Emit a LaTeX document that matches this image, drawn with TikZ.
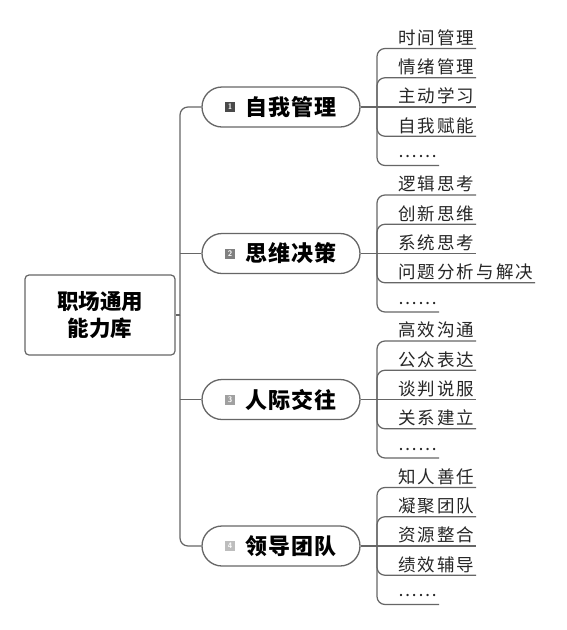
\documentclass[tikz,border=0pt]{standalone}
\usepackage{fontspec}
\newfontfamily\cjk{Noto Sans CJK SC}
\newfontfamily\leaffont[LetterSpace=12]{Noto Sans CJK SC}
\newfontfamily\lblfont[LetterSpace=5]{Noto Sans CJK SC}
\usetikzlibrary{shapes.misc}
\definecolor{linec}{HTML}{666666}
\newcommand\mkbranch[5]{%
  \node[pill] (b#1) at (281,#2) {};
  \node[icon=#4] (i#1) at (230,#2) {#1};
  \node[lbl] (t#1) at (291,#2) {#3};
  \coordinate (s#1) at (377,#2);
  \draw[conn] (b#1.east) -- (s#1);
  \foreach \t [count=\k] in {#5} {\node[leaf] (l#1\k) at (396.5,{#2+(\k-3)*29.25}) {\t};}
  \foreach \k in {1,2,4,5} {\draw[conn, rounded corners=8pt] (s#1) |- (l#1\k.south east);}
  \draw[conn] (s#1) -- (l#13.south east);
}
\newcommand\dotsleaf{\raisebox{3.5pt}{……}}
\begin{document}
\begin{tikzpicture}[x=1pt,y=-1pt,
  conn/.style={draw=linec, line width=1.25pt},
  pill/.style={draw=linec, line width=1.3pt, rounded rectangle, minimum width=158pt, minimum height=40pt, inner sep=0pt},
  lbl/.style={font=\lblfont\bfseries\fontsize{22}{26}\selectfont, inner sep=0pt},
  icon/.style={fill=#1, minimum size=10pt, inner sep=0pt, text=white, font=\sffamily\bfseries\fontsize{8}{8}\selectfont},
  leaf/.style={anchor=south west, inner ysep=0pt, inner xsep=1.5pt, text height=14pt, text depth=4pt, font=\leaffont\fontsize{17.5}{19}\selectfont, text=black!85}]
\fill[white] (0,0) rectangle (566,630);
\useasboundingbox (0,0) rectangle (566,630);
\node[draw=linec, line width=1.2pt, rounded corners=4pt, minimum width=150pt, minimum height=80pt, align=center, inner sep=0pt, font=\cjk\bfseries\fontsize{21.5}{27}\selectfont] (root) at (100,315) {职场通用\\能力库};
\definecolor{ic1}{HTML}{4A4A4A}
\definecolor{ic2}{HTML}{808080}
\definecolor{ic3}{HTML}{A0A0A0}
\definecolor{ic4}{HTML}{BDBDBD}
\mkbranch{1}{107}{自我管理}{ic1}{时间管理,情绪管理,主动学习,自我赋能,\dotsleaf}
\mkbranch{2}{253.5}{思维决策}{ic2}{逻辑思考,创新思维,系统思考,问题分析与解决,\dotsleaf}
\mkbranch{3}{399.5}{人际交往}{ic3}{高效沟通,公众表达,谈判说服,关系建立,\dotsleaf}
\mkbranch{4}{546}{领导团队}{ic4}{知人善任,凝聚团队,资源整合,绩效辅导,\dotsleaf}
\coordinate (t0) at (180,315);
\draw[conn] (root.east) -- (t0);
\draw[conn, rounded corners=8pt] (t0) |- (b1.west);
\draw[conn, rounded corners=8pt] (t0) |- (b4.west);
\draw[conn] (t0 |- b2.west) -- (b2.west);
\draw[conn] (t0 |- b3.west) -- (b3.west);
\end{tikzpicture}
\end{document}
